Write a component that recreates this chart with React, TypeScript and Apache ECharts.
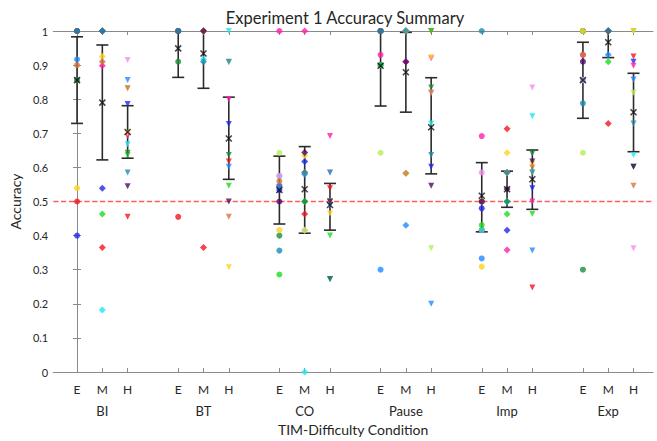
import React, { useEffect, useRef } from 'react';
import * as echarts from 'echarts';

const groups = ['BI', 'BT', 'CO', 'Pause', 'Imp', 'Exp'];
const levels = ['E', 'M', 'H'];
const levelSymbols = ['circle', 'diamond', 'triangle'];

// participant colours
const participantColors = [
  '#f5141e', // red
  '#1e28f0', // blue
  '#1e8cff', // azure
  '#1ee6f0', // cyan
  '#1edc1e', // green
  '#1e8c3c', // dark green
  '#ff1eaa', // magenta
  '#f58cf0', // violet
  '#ffd21e', // yellow
  '#b4f050', // chartreuse
  '#d2783c', // orange
  '#500a64', // purple
  '#1e8cb4', // teal
];

// condition order: BI E M H, BT E M H, CO E M H, Pause E M H, Imp E M H, Exp E M H
const pRed = [0.5, 0.365, 0.455, 0.455, 0.365, 0.617, 0.546, 0.463, 0.539, 1, 1, 1, 0.416, 0.713, 0.248, 1, 0.729, 0.925];
const pBlue = [0.4, 0.539, 0.786, 1, 1, 0.727, 0.534, 0.617, 0.273, 0.9, 1, 0.602, 0.48, 0.416, 0.539, 1, 1, 0.91];
const pAzure = [0.917, 1, 0.856, 1, 1, 0.602, 0.546, 0.58, 0.49, 0.3, 0.43, 0.2, 0.333, 0.5, 0.356, 1, 0.93, 0.858];
const pCyan = [1, 0.182, 0.668, 1, 0.917, 1, 0.575, 0, 0.5, 1, 1, 0.729, 0.416, 0.5, 0.75, 0.856, 1, 0.636];
const pGreen = [1, 0.463, 0.636, 1, 1, 0.546, 0.286, 0.5, 0.4, 0.9, 1, 1, 0.431, 0.463, 0.463, 1, 0.91, 1];
const pDarkGreen = [0.856, 1, 0.643, 0.91, 1, 0.636, 0.4, 0.5, 0.273, 1, 1, 0.834, 0.5, 0.5, 0.641, 0.3, 1, 0.602];
const pMagenta = [1, 0.898, 0.692, 1, 1, 0.8, 1, 1, 0.692, 0.93, 0.91, 0.92, 0.692, 0.358, 0.5, 0.93, 1, 0.898];
const pViolet = [1, 1, 0.915, 1, 1, 0.908, 0.575, 0.416, 0.585, 1, 1, 0.819, 0.585, 0.585, 0.834, 0.856, 1, 0.363];
const pYellow = [0.539, 0.925, 0.7, 1, 1, 0.307, 0.416, 0.635, 0.465, 1, 1, 0.923, 0.309, 0.643, 0.61, 1, 1, 1];
const pChartreuse = [1, 1, 0.832, 1, 1, 0.908, 0.643, 0.416, 0.5, 0.643, 0.583, 0.363, 0.5, 0.585, 0.585, 0.643, 1, 0.819];
const pOrange = [0.9, 0.91, 0.832, 1, 1, 0.455, 0.56, 0.585, 0.5, 1, 0.583, 0.819, 0.5, 0.585, 0.6, 0.93, 1, 0.546];
const pPurple = [1, 1, 0.545, 1, 1, 0.5, 0.5, 0.644, 0.5, 1, 0.91, 0.546, 0.5, 0.537, 0.617, 0.91, 1, 0.602];
const pTeal = [1, 1, 0.585, 1, 0.91, 0.91, 0.356, 0.585, 0.585, 1, 1, 0.636, 1, 0.585, 0.585, 0.788, 1, 0.729];

const participantScores = [pRed, pBlue, pAzure, pCyan, pGreen, pDarkGreen, pMagenta, pViolet, pYellow, pChartreuse, pOrange, pPurple, pTeal];

const means = [0.856, 0.79, 0.704, 0.949, 0.934, 0.685, 0.534, 0.536, 0.49, 0.898, 0.879, 0.718, 0.517, 0.536, 0.565, 0.856, 0.967, 0.762];
const ciLow = [0.729, 0.622, 0.627, 0.864, 0.832, 0.565, 0.434, 0.407, 0.416, 0.78, 0.762, 0.581, 0.411, 0.483, 0.477, 0.744, 0.922, 0.646];
const ciHigh = [0.983, 0.959, 0.781, 1.034, 1.036, 0.806, 0.633, 0.661, 0.553, 1.016, 0.996, 0.863, 0.614, 0.589, 0.651, 0.967, 1.012, 0.876];

const chanceLevel = 0.5;

const condX = (c: number) => Math.floor(c / 3) * 4 + (c % 3);
const condPositions = means.map((_, c) => condX(c));
const groupPositions = groups.map((_, g) => g * 4 + 1);

const FONT = 'Lato';
const AXIS_GREY = '#8a8a8a';
const TEXT = '#262626';
const CHANCE_RED = '#ff5c5c';

export default function App() {
  const ref = useRef<HTMLDivElement>(null);

  useEffect(() => {
    document.body.style.margin = '0';
    if (!ref.current) return;
    const chart = echarts.init(ref.current, undefined, { renderer: 'svg' });

    const xMin = -0.94;
    const xMax = 22.77;

    const pointSeries = participantScores.map((scores, p) => ({
      type: 'scatter',
      xAxisIndex: 0,
      yAxisIndex: 0,
      z: 3,
      symbolSize: 6,
      itemStyle: { color: participantColors[p] },
      data: scores.map((v, c) => ({
        value: [condX(c), v],
        symbol: levelSymbols[c % 3],
        symbolRotate: c % 3 === 2 ? 180 : 0,
        symbolSize: c % 3 === 1 ? 7 : 6,
      })),
    }));

    const option: any = {
      animation: false,
      color: [CHANCE_RED],
      textStyle: { fontFamily: FONT },
      title: {
        text: 'Experiment 1 Accuracy Summary',
        left: 340,
        top: 4,
        textAlign: 'center',
        textStyle: { fontFamily: FONT, fontSize: 16.5, fontWeight: 'normal', color: TEXT },
      },
      grid: { left: 46, right: 4, top: 31, bottom: 69, containLabel: false },
      xAxis: [
        {
          type: 'value',
          min: xMin,
          max: xMax,
          position: 'bottom',
          axisLine: { show: true, lineStyle: { color: AXIS_GREY, width: 1 } },
          axisTick: { show: true, inside: true, length: 4, customValues: condPositions, lineStyle: { color: AXIS_GREY } },
          axisLabel: {
            show: true,
            customValues: condPositions,
            formatter: (v: number) => levels[Math.round(v) % 4] ?? '',
            margin: 11,
            fontSize: 12,
            color: TEXT,
            fontFamily: FONT,
          },
          splitLine: { show: false },
          name: 'TIM-Difficulty Condition',
          nameLocation: 'middle',
          nameGap: 50,
          nameTextStyle: { fontSize: 14, color: TEXT, fontFamily: FONT },
        },
        {
          type: 'value',
          min: xMin,
          max: xMax,
          position: 'bottom',
          axisLine: { show: false },
          axisTick: { show: false },
          axisLabel: {
            show: true,
            customValues: groupPositions,
            formatter: (v: number) => groups[Math.round((v - 1) / 4)] ?? '',
            margin: 32,
            fontSize: 13,
            color: TEXT,
            fontFamily: FONT,
          },
          splitLine: { show: false },
        },
        {
          type: 'value',
          min: xMin,
          max: xMax,
          position: 'top',
          axisLine: { show: true, lineStyle: { color: AXIS_GREY, width: 1 } },
          axisTick: { show: true, inside: true, length: 4, customValues: condPositions, lineStyle: { color: AXIS_GREY } },
          axisLabel: { show: false },
          splitLine: { show: false },
        },
      ],
      yAxis: [
        {
          type: 'value',
          min: 0,
          max: 1,
          interval: 0.1,
          position: 'left',
          axisLine: { show: true, lineStyle: { color: AXIS_GREY, width: 1 } },
          axisTick: { show: true, inside: true, length: 4, lineStyle: { color: AXIS_GREY } },
          axisLabel: { fontSize: 11, color: TEXT, margin: 5, fontFamily: FONT },
          splitLine: { show: false },
          name: 'Accuracy',
          nameLocation: 'middle',
          nameGap: 31,
          nameTextStyle: { fontSize: 14, color: TEXT, fontFamily: FONT },
        },
        {
          type: 'value',
          min: 0,
          max: 1,
          interval: 0.1,
          position: 'right',
          axisLine: { show: true, lineStyle: { color: AXIS_GREY, width: 1 } },
          axisTick: { show: true, inside: true, length: 4, lineStyle: { color: AXIS_GREY } },
          axisLabel: { show: false },
          splitLine: { show: false },
        },
      ],
      series: [
        {
          type: 'line',
          xAxisIndex: 0,
          yAxisIndex: 0,
          z: 1,
          symbol: 'none',
          silent: true,
          color: CHANCE_RED,
          lineStyle: { color: CHANCE_RED, type: 'dashed', dashOffset: 0, width: 1.3 },
          data: [[xMin, chanceLevel], [xMax, chanceLevel]],
        },
        {
          type: 'custom',
          xAxisIndex: 0,
          yAxisIndex: 0,
          z: 2,
          data: means.map((_, c) => [condX(c), ciLow[c], ciHigh[c]]),
          encode: { x: 0, y: [1, 2] },
          renderItem: (params: any, api: any) => {
            const x = api.value(0);
            const lo = api.value(1);
            const hi = api.value(2);
            const top = api.coord([x, Math.min(hi, 1)]);
            const bot = api.coord([x, lo]);
            const w = 6;
            const style = { stroke: '#2b2b2b', lineWidth: 1.6 };
            const children: any[] = [
              { type: 'line', shape: { x1: top[0], y1: top[1], x2: bot[0], y2: bot[1] }, style },
              { type: 'line', shape: { x1: bot[0] - w, y1: bot[1], x2: bot[0] + w, y2: bot[1] }, style },
            ];
            if (hi <= 1) {
              children.push({ type: 'line', shape: { x1: top[0] - w, y1: top[1], x2: top[0] + w, y2: top[1] }, style });
            }
            return { type: 'group', children };
          },
        },
        ...pointSeries,
        {
          type: 'scatter',
          xAxisIndex: 0,
          yAxisIndex: 0,
          z: 4,
          symbol: 'path://M0,0L10,10M10,0L0,10',
          symbolSize: 6,
          itemStyle: { color: 'none', borderColor: '#111', borderWidth: 1.5 },
          data: means.map((m, c) => [condX(c), m]),
        },
      ],
    };

    chart.setOption(option);
    return () => chart.dispose();
  }, []);

  return <div ref={ref} style={{ width: 657, height: 441 }} />;
}
